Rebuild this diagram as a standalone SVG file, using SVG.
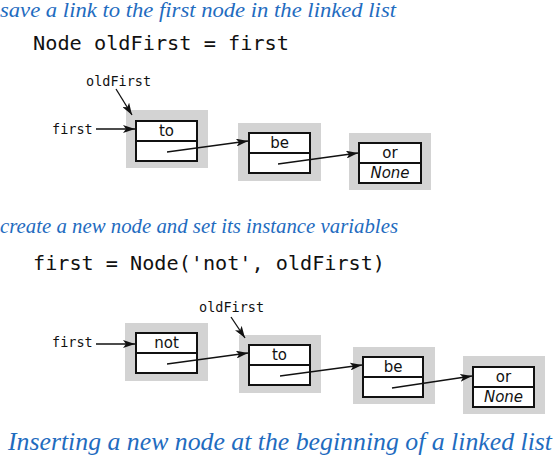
<svg xmlns="http://www.w3.org/2000/svg" width="555" height="461" viewBox="0 0 555 461">
<style>
.hd{font-family:"Liberation Serif",serif;font-style:italic;fill:#1f6cbf;font-size:20px}
.code{font-family:"DejaVu Sans Mono","Liberation Mono",monospace;font-size:20px;fill:#111}
.lbl{font-family:"DejaVu Sans Mono","Liberation Mono",monospace;font-size:13.5px;fill:#111}
.bg{fill:#d3d3d3}
.box{fill:#fff;stroke:#111;stroke-width:2}
.val{font-family:"DejaVu Sans","Liberation Sans",sans-serif;font-size:15px;fill:#111;text-anchor:middle}
.none{font-style:italic}
.ln{stroke:#111;stroke-width:1.3;fill:none;marker-end:url(#ah)}
</style>
<defs>
<marker id="ah" viewBox="0 0 12 8" refX="12" refY="4" markerWidth="12" markerHeight="8" markerUnits="userSpaceOnUse" orient="auto">
<path d="M0,0 L12,4 L0,8 L3,4 Z" fill="#111"/>
</marker>
</defs>
<text class="hd" x="0" y="17" textLength="396" lengthAdjust="spacingAndGlyphs">save a link to the first node in the linked list</text>
<text class="code" x="33" y="50" textLength="256" lengthAdjust="spacingAndGlyphs">Node oldFirst = first</text>
<text class="hd" x="0" y="233" textLength="398" lengthAdjust="spacingAndGlyphs">create a new node and set its instance variables</text>
<text class="code" x="33" y="270" textLength="352" lengthAdjust="spacingAndGlyphs">first = Node('not', oldFirst)</text>
<text class="hd" x="8" y="450" style="font-size:25px" textLength="544" lengthAdjust="spacingAndGlyphs">Inserting a new node at the beginning of a linked list</text>

<g id="labels1">
<text class="lbl" x="52" y="134">first</text>
<text class="lbl" x="86" y="86">oldFirst</text>
</g>
<g id="n1to">
<rect class="bg" x="126" y="110" width="82" height="58"/>
<rect class="box" x="136" y="121" width="61" height="40"/>
<line x1="136" y1="141" x2="197" y2="141" stroke="#111" stroke-width="2"/>
<text class="val" x="166.5" y="136">to</text>
</g>
<g id="n1be">
<rect class="bg" x="238" y="123" width="83" height="58"/>
<rect class="box" x="249" y="133" width="61" height="40"/>
<line x1="249" y1="153" x2="310" y2="153" stroke="#111" stroke-width="2"/>
<text class="val" x="279.5" y="148">be</text>
</g>
<g id="n1or">
<rect class="bg" x="349" y="133" width="82" height="57"/>
<rect class="box" x="359" y="143" width="62" height="40"/>
<line x1="359" y1="163" x2="421" y2="163" stroke="#111" stroke-width="2"/>
<text class="val" x="390" y="158">or</text>
<text class="val none" x="390" y="178">None</text>
</g>

<g id="labels2">
<text class="lbl" x="52" y="347">first</text>
<text class="lbl" x="199" y="312">oldFirst</text>
</g>
<g id="n2not">
<rect class="bg" x="125" y="323" width="83" height="58"/>
<rect class="box" x="136" y="333" width="61" height="40"/>
<line x1="136" y1="353" x2="197" y2="353" stroke="#111" stroke-width="2"/>
<text class="val" x="166.5" y="348">not</text>
</g>
<g id="n2to">
<rect class="bg" x="239" y="335" width="82" height="58"/>
<rect class="box" x="249" y="345" width="61" height="40"/>
<line x1="249" y1="365" x2="310" y2="365" stroke="#111" stroke-width="2"/>
<text class="val" x="279.5" y="360">to</text>
</g>
<g id="n2be">
<rect class="bg" x="353" y="347" width="82" height="57"/>
<rect class="box" x="363" y="357" width="60" height="40"/>
<line x1="363" y1="377" x2="423" y2="377" stroke="#111" stroke-width="2"/>
<text class="val" x="393" y="372">be</text>
</g>
<g id="n2or">
<rect class="bg" x="463" y="356" width="82" height="58"/>
<rect class="box" x="473" y="367" width="61" height="40"/>
<line x1="473" y1="387" x2="534" y2="387" stroke="#111" stroke-width="2"/>
<text class="val" x="503.5" y="382">or</text>
<text class="val none" x="503.5" y="402">None</text>
</g>

<g id="connectors">
<line class="ln" x1="96" y1="129" x2="135" y2="129"/>
<line class="ln" x1="116" y1="89" x2="132" y2="115"/>
<line class="ln" x1="167" y1="152" x2="248" y2="141"/>
<line class="ln" x1="278" y1="164" x2="358" y2="153"/>
<line class="ln" x1="96" y1="344" x2="135" y2="344"/>
<line class="ln" x1="231" y1="317" x2="245" y2="338"/>
<line class="ln" x1="167" y1="364" x2="248" y2="353"/>
<line class="ln" x1="280" y1="376" x2="362" y2="365"/>
<line class="ln" x1="392" y1="388" x2="472" y2="376"/>
</g>
</svg>
